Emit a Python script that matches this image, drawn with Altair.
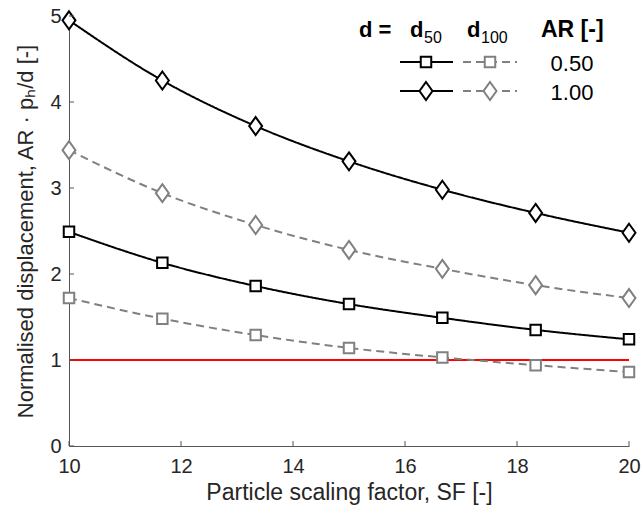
import altair as alt
import pandas as pd

# ---- data ----
sf = [10.0, 11.667, 13.333, 15.0, 16.667, 18.333, 20.0]
d50_ar050 = [2.49, 2.13, 1.86, 1.65, 1.49, 1.35, 1.24]
d100_ar050 = [1.72, 1.48, 1.29, 1.14, 1.03, 0.94, 0.86]
d50_ar100 = [4.95, 4.25, 3.72, 3.31, 2.98, 2.71, 2.48]
d100_ar100 = [3.44, 2.94, 2.57, 2.28, 2.06, 1.87, 1.72]
ref_value = [1.0]
x_ticks = [10, 12, 14, 16, 18, 20]
y_ticks = [0, 1, 2, 3, 4, 5]
ar_labels = ["0.50", "1.00"]
d_labels = ["d50", "d100"]

rows = []
for dname, arname, vals in [("d50", "0.50", d50_ar050), ("d100", "0.50", d100_ar050),
                            ("d50", "1.00", d50_ar100), ("d100", "1.00", d100_ar100)]:
    for x, v in zip(sf, vals):
        rows.append({"SF": x, "val": v, "d": dname, "AR": arname, "series": dname + "_" + arname})
df = pd.DataFrame(rows)

W, H = 560, 430
FONT = "Liberation Sans"
AX = "#555555"
TXT = "#262626"
DIAMOND = "M0,-1L0.72,0L0,1L-0.72,0Z"

xs = alt.Scale(domain=[10, 20], nice=False, zero=False)
ys = alt.Scale(domain=[0, 5], nice=False)
col_scale = alt.Scale(domain=d_labels, range=["black", "#808080"])
dash_scale = alt.Scale(domain=d_labels, range=[[1, 0], [8, 5]])
shape_scale = alt.Scale(domain=ar_labels, range=["square", DIAMOND])
size_scale = alt.Scale(domain=ar_labels, range=[110, 324])

base = alt.Chart(df)

ref = alt.Chart(pd.DataFrame({"y": ref_value})).mark_rule(color="#ff0000", strokeWidth=2).encode(
    y=alt.Y("y:Q", scale=ys,
            axis=alt.Axis(values=y_ticks, format="d", title="Normalised displacement, AR · pₕ/d [-]",
                          ticks=False, grid=False, labelPadding=8, titlePadding=12,
                          labelFlush=False, titleFontSize=22)),
)

lines = base.mark_line(strokeWidth=2, interpolate="monotone").encode(
    x=alt.X("SF:Q", scale=xs,
            axis=alt.Axis(values=x_ticks, format="d", title="Particle scaling factor, SF [-]",
                          ticks=False, grid=False, labelPadding=10, titlePadding=5,
                          labelFlush=False, titleFontSize=23)),
    y=alt.Y("val:Q", scale=ys),
    stroke=alt.Stroke("d:N", scale=col_scale, legend=None),
    strokeDash=alt.StrokeDash("d:N", scale=dash_scale, legend=None),
    detail="series:N",
)

points = base.mark_point(filled=True, fill="white", strokeWidth=2, opacity=1).encode(
    x=alt.X("SF:Q", scale=xs),
    y=alt.Y("val:Q", scale=ys),
    stroke=alt.Stroke("d:N", scale=col_scale, legend=None),
    shape=alt.Shape("AR:N", scale=shape_scale, legend=None),
    size=alt.Size("AR:N", scale=size_scale, legend=None),
)

# inward tick marks
xt = alt.Chart(pd.DataFrame({"t": x_ticks})).mark_rule(color=AX, strokeWidth=1).encode(
    x=alt.X("t:Q", scale=xs), y=alt.value(H), y2=alt.value(H - 5))
yt = alt.Chart(pd.DataFrame({"t": y_ticks})).mark_rule(color=AX, strokeWidth=1).encode(
    y=alt.Y("t:Q", scale=ys), x=alt.value(0), x2=alt.value(5))

# ---- custom legend ----
one = pd.DataFrame({"k": [0]})


def txt(s, x, y, size=22, bold=True, align="left"):
    return alt.Chart(one).mark_text(text=s, font=FONT, fontSize=size,
                                    fontWeight="bold" if bold else "normal",
                                    align=align, baseline="alphabetic", color="black").encode(
        x=alt.value(x), y=alt.value(y))


def seg(x1, x2, y, color, dash):
    return alt.Chart(one).mark_rule(color=color, strokeWidth=2, strokeDash=dash).encode(
        x=alt.value(x1), x2=alt.value(x2), y=alt.value(y))


def mk(x, y, color, shape, size):
    return alt.Chart(one).mark_point(shape=shape, size=size, filled=True, fill="white",
                                     stroke=color, strokeWidth=2, opacity=1).encode(
        x=alt.value(x), y=alt.value(y))


legend = [
    txt("d =", 290, 21),
    txt("d", 341, 21), txt("50", 355, 27, size=16, bold=False),
    txt("d", 398, 21), txt("100", 412, 27, size=16, bold=False),
    txt("AR [-]", 472, 21, size=23),
]
for ry, arl, shp, sz in [(46, ar_labels[0], "square", 110), (75, ar_labels[1], DIAMOND, 324)]:
    legend += [
        seg(331, 384, ry, "black", [1, 0]), mk(357, ry, "black", shp, sz),
        seg(394, 448, ry, "#808080", [8, 5]), mk(421, ry, "#808080", shp, sz),
        txt(arl, 503, ry + 9, size=22, bold=False, align="center"),
    ]

chart = alt.layer(ref, lines, points, xt, yt, *legend).properties(
    width=W, height=H,
    autosize=alt.AutoSizeParams(type="none"),
    padding={"left": 69, "top": 16, "right": 13, "bottom": 63},
).configure_view(stroke=None).configure_axis(
    domainColor=AX, domainWidth=1, labelFont=FONT, titleFont=FONT,
    labelFontSize=20, labelColor=TXT, titleColor=TXT,
    titleFontWeight="normal",
)

chart.save("out.html", embed_options={"renderer": "svg", "actions": False})
